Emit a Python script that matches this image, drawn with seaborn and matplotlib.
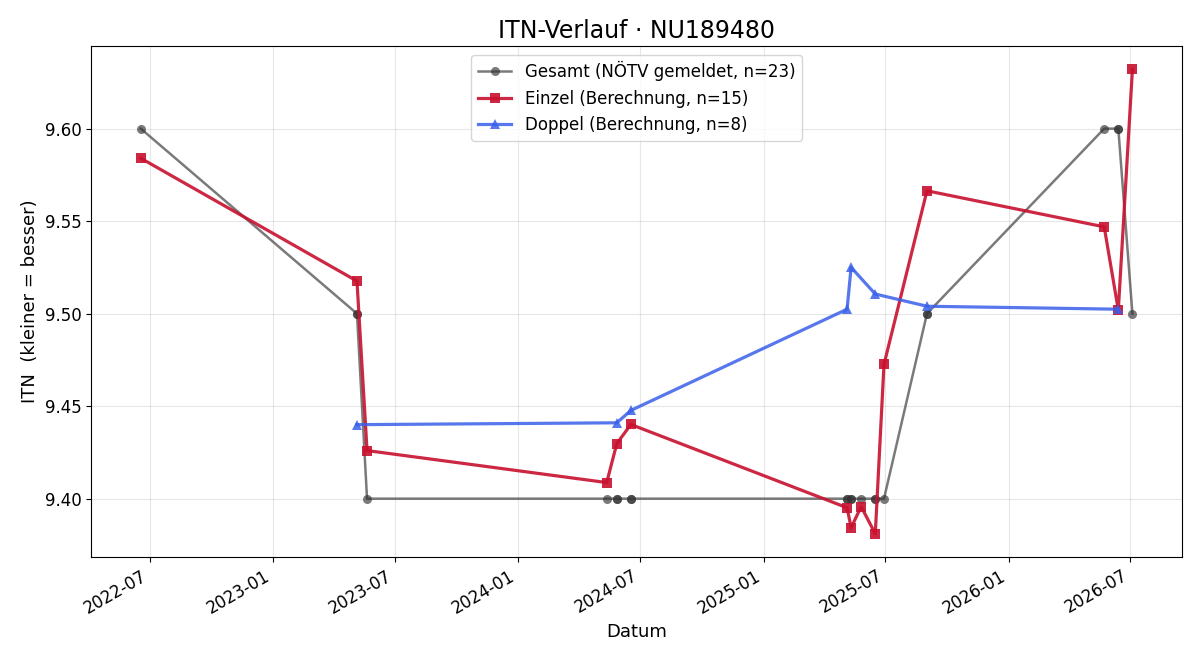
import pandas as pd
import matplotlib
matplotlib.use("Agg")
import matplotlib.pyplot as plt
import matplotlib.dates as mdates
import seaborn as sns

# Einzel (Berechnung)
einzel_dates = ["2022-06-18", "2023-05-06", "2023-05-21", "2024-05-12", "2024-05-27",
                "2024-06-17", "2025-05-05", "2025-05-11", "2025-05-26", "2025-06-16",
                "2025-06-29", "2025-09-01", "2026-05-23", "2026-06-13", "2026-07-04"]
einzel_itn = [9.584, 9.5176, 9.426, 9.4087, 9.4298, 9.4401, 9.3951, 9.3843, 9.3957,
              9.381, 9.4726, 9.5664, 9.5469, 9.5019, 9.632]

# Doppel (Berechnung)
doppel_dates = ["2023-05-06", "2024-05-27", "2024-06-17", "2025-05-05", "2025-05-11",
                "2025-06-16", "2025-09-01", "2026-06-13"]
doppel_itn = [9.440, 9.441, 9.4477, 9.5024, 9.525, 9.5106, 9.504, 9.5024]

# Gesamt (NÖTV gemeldet) - ein Eintrag pro Spiel, daher doppelte Termine
gesamt_dates = ["2022-06-18", "2023-05-06", "2023-05-06", "2023-05-21", "2024-05-12",
                "2024-05-27", "2024-05-27", "2024-06-17", "2024-06-17", "2025-05-05",
                "2025-05-05", "2025-05-11", "2025-05-11", "2025-05-26", "2025-06-16",
                "2025-06-16", "2025-06-29", "2025-09-01", "2025-09-01", "2026-05-23",
                "2026-06-13", "2026-06-13", "2026-07-04"]
gesamt_itn = [9.60, 9.50, 9.50, 9.40, 9.40, 9.40, 9.40, 9.40, 9.40, 9.40, 9.40, 9.40,
              9.40, 9.40, 9.40, 9.40, 9.40, 9.50, 9.50, 9.60, 9.60, 9.60, 9.50]

df_g = pd.DataFrame({"Datum": pd.to_datetime(gesamt_dates), "ITN": gesamt_itn})
df_e = pd.DataFrame({"Datum": pd.to_datetime(einzel_dates), "ITN": einzel_itn})
df_d = pd.DataFrame({"Datum": pd.to_datetime(doppel_dates), "ITN": doppel_itn})

fig, ax = plt.subplots(figsize=(12, 6.6), dpi=100)

sns.lineplot(data=df_g, x="Datum", y="ITN", ax=ax, estimator=None, color="#333333",
             alpha=0.65, marker="o", markersize=6.5, linewidth=1.8, markeredgewidth=0,
             label=f"Gesamt (NÖTV gemeldet, n={len(gesamt_itn)})")
sns.lineplot(data=df_e, x="Datum", y="ITN", ax=ax, estimator=None, color="#C8102E",
             alpha=0.9, marker="s", markersize=7.5, linewidth=2.3, markeredgewidth=0,
             label=f"Einzel (Berechnung, n={len(einzel_itn)})")
sns.lineplot(data=df_d, x="Datum", y="ITN", ax=ax, estimator=None, color="#3A5FEA",
             alpha=0.85, marker="^", markersize=7.5, linewidth=2.3, markeredgewidth=0,
             label=f"Doppel (Berechnung, n={len(doppel_itn)})")

ax.set_title("ITN-Verlauf · NU189480", fontsize=17)
ax.set_xlabel("Datum", fontsize=13)
ax.set_ylabel("ITN  (kleiner = besser)", fontsize=13)
ax.xaxis.set_major_locator(mdates.MonthLocator(bymonth=[1, 7]))
ax.xaxis.set_major_formatter(mdates.DateFormatter("%Y-%m"))
ax.tick_params(labelsize=12)
ax.grid(True, alpha=0.3)
ax.legend(loc="upper center", fontsize=12)
fig.autofmt_xdate()

plt.subplots_adjust(left=0.076, right=0.985, top=0.93, bottom=0.156)
fig.savefig("out.png", dpi=100)
